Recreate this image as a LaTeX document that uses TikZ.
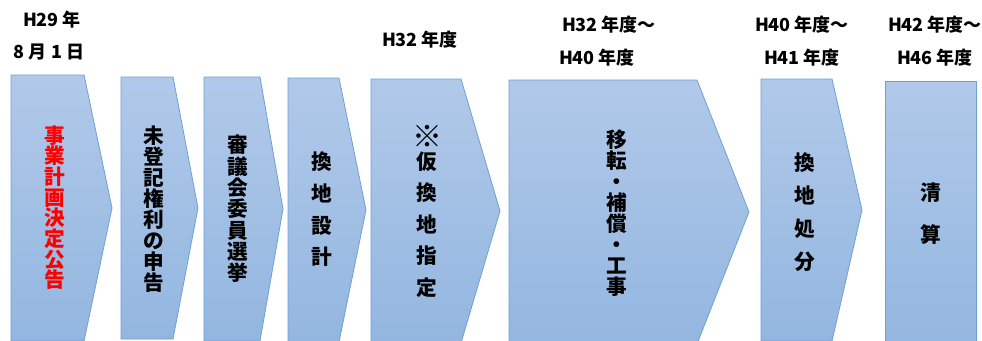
\documentclass[tikz,border=0pt]{standalone}
\usepackage{fontspec}
\usepackage{graphicx}
\newfontfamily\jp{Noto Sans CJK JP}
\definecolor{topc}{RGB}{177,201,233}
\definecolor{botc}{RGB}{147,182,224}
\definecolor{bordc}{RGB}{110,160,215}
\begin{document}
\begin{tikzpicture}[x=0.75pt,y=-0.75pt,
  chev/.style={draw=bordc, line width=0.6pt, top color=topc, bottom color=botc},
  vtext/.style={align=center, inner sep=0pt, font=\jp\bfseries\fontsize{15.5}{#1}\selectfont},
  lab/.style={inner sep=0pt, font=\jp\bfseries\fontsize{13.5}{16}\selectfont}]
\useasboundingbox (0,0) rectangle (982,340);
% chevrons
\path[chev] (11,75) -- (84,75) -- (112,208) -- (84,341) -- (11,341) -- cycle;
\path[chev] (121,77) -- (173,77) -- (198,208) -- (173,339) -- (121,339) -- cycle;
\path[chev] (204,77) -- (260,77) -- (283,209) -- (260,341) -- (204,341) -- cycle;
\path[chev] (288,78) -- (339,78) -- (366,210) -- (339,342) -- (288,342) -- cycle;
\path[chev] (371,79) -- (461,79) -- (500,211) -- (461,343) -- (371,343) -- cycle;
\path[chev] (509,80) -- (697,80) -- (749,212) -- (697,344) -- (509,344) -- cycle;
\path[chev] (761,79) -- (832,79) -- (862,210) -- (832,341) -- (761,341) -- cycle;
\path[chev] (885,81) rectangle (976,344);
% vertical texts
\node[vtext=15.5pt, text=red] (t1) at (55,207.5) {事\\業\\計\\画\\決\\定\\公\\告};
\node[vtext=15.8pt] (t2) at (154,209) {未\\登\\記\\権\\利\\の\\申\\告};
\node[vtext=16pt] (t3) at (238,209) {審\\議\\会\\委\\員\\選\\挙};
\node[vtext=23.8pt] (t4) at (322,209.5) {換\\地\\設\\計};
\node[vtext=23.6pt] (t5) at (427,211) {\scalebox{1.45}{※}\\[-7pt]仮\\換\\地\\指\\定};
\node[vtext=15.75pt] (t6) at (617,213.5) {移\\転\\・\\補\\償\\・\\工\\事};
\node[vtext=24.75pt] (t7) at (805,212.5) {換\\地\\処\\分};
\node[vtext=31.5pt] (t8) at (931,214) {清\\算};
% labels
\node[lab] (l1a) at (52,20) {H29 年};
\node[lab] (l1b) at (49,52) {8 月 1 日};
\node[lab] (l5) at (420,40) {H32 年度};
\node[lab] (l6a) at (609,25) {H32 年度～};
\node[lab] (l6b) at (597,58) {H40 年度};
\node[lab] (l7a) at (802,25) {H40 年度～};
\node[lab] (l7b) at (802,58) {H41 年度};
\node[lab] (l8a) at (935,25) {H42 年度～};
\node[lab] (l8b) at (935,58) {H46 年度};
\end{tikzpicture}
\end{document}
